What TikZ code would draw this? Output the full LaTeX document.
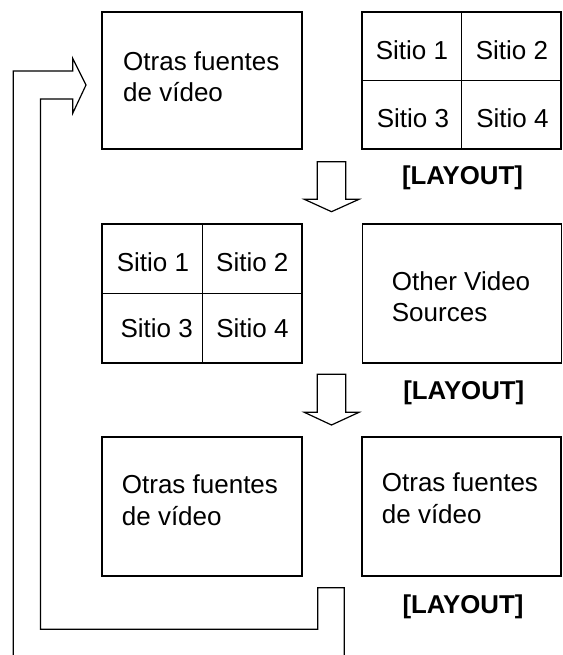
\documentclass[tikz,border=0pt]{standalone}
\usepackage{fontspec}
\setmainfont{Liberation Sans}
\begin{document}
\begin{tikzpicture}[x=1pt,y=-1pt,
  box/.style={draw,line width=1.6pt,inner sep=0pt},
  divider/.style={line width=0.8pt},
  lbl/.style={font=\fontsize{26}{31}\selectfont,inner sep=0pt},
  lay/.style={font=\fontsize{25.8}{31}\selectfont\bfseries,inner sep=0pt,anchor=base},
  blockarrow/.style={draw,line width=1.2pt,line join=miter,fill=white}]
\useasboundingbox (0,0) rectangle (562,655);

% top row
\node[box,minimum width=200pt,minimum height=137pt] (b1) at (202,80.5) {};
\node[lbl,anchor=base west] (t1a) at (123,71) {Otras fuentes};
\node[lbl,anchor=base west] (t1b) at (123,102) {de vídeo};

\node[box,minimum width=199pt,minimum height=137pt] (g1) at (461.5,80.5) {};
\draw[divider] (g1.north) -- (g1.south);
\draw[divider] (g1.west) -- (g1.east);
\node[lbl,anchor=base] (s11) at (412,60) {Sitio 1};
\node[lbl,anchor=base] (s12) at (512,60) {Sitio 2};
\node[lbl,anchor=base] (s13) at (413,128) {Sitio 3};
\node[lbl,anchor=base] (s14) at (512.5,128) {Sitio 4};
\node[lay] (lay1) at (462.5,185) {[LAYOUT]};

\draw[blockarrow] (317.3,161.7) -- (345.7,161.7) -- (345.7,199.3) -- (359,199.3)
  -- (331.5,211.7) -- (304.3,199.3) -- (317.3,199.3) -- cycle;

% middle row
\node[box,minimum width=200pt,minimum height=139pt] (g2) at (202,293.5) {};
\draw[divider] (g2.north) -- (g2.south);
\draw[divider] (g2.west) -- (g2.east);
\node[lbl,anchor=base] (s21) at (153,271.7) {Sitio 1};
\node[lbl,anchor=base] (s22) at (252.3,271.7) {Sitio 2};
\node[lbl,anchor=base] (s23) at (156.7,337.3) {Sitio 3};
\node[lbl,anchor=base] (s24) at (252.5,337.3) {Sitio 4};

\node[box,minimum width=199pt,minimum height=139pt] (b2) at (462,293.5) {};
\node[lbl,anchor=base west] (t2a) at (391.7,290.7) {Other Video};
\node[lbl,anchor=base west] (t2b) at (391.7,321.7) {Sources};
\node[lay] (lay2) at (463.8,399.3) {[LAYOUT]};

\draw[blockarrow] (317.3,374.3) -- (345.7,374.3) -- (345.7,412.3) -- (359,412.3)
  -- (331.5,425) -- (304.3,412.3) -- (317.3,412.3) -- cycle;

% bottom row
\node[box,minimum width=200pt,minimum height=139pt] (b3) at (202,506.5) {};
\node[lbl,anchor=base west] (t3a) at (121.7,493.3) {Otras fuentes};
\node[lbl,anchor=base west] (t3b) at (121.7,525) {de vídeo};

\node[box,minimum width=199pt,minimum height=139pt] (b4) at (461.5,506.5) {};
\node[lbl,anchor=base west] (t4a) at (381.7,491.7) {Otras fuentes};
\node[lbl,anchor=base west] (t4b) at (381.7,523.3) {de vídeo};
\node[lay] (lay3) at (463,613.3) {[LAYOUT]};

% feedback block arrow
\coordinate (fbA) at (344.3,656);
\coordinate (fbB) at (13.3,656);
\draw[line width=1.2pt,line join=miter] (fbA) -- (344.3,587.7) -- (317.7,587.7) -- (317.7,629.3)
  -- (40.5,629.3) -- (40.5,99) -- (72.7,99) -- (72.7,113.3) -- (86,85)
  -- (72.7,58.3) -- (72.7,71) -- (13.3,71) -- (fbB);
\end{tikzpicture}
\end{document}
